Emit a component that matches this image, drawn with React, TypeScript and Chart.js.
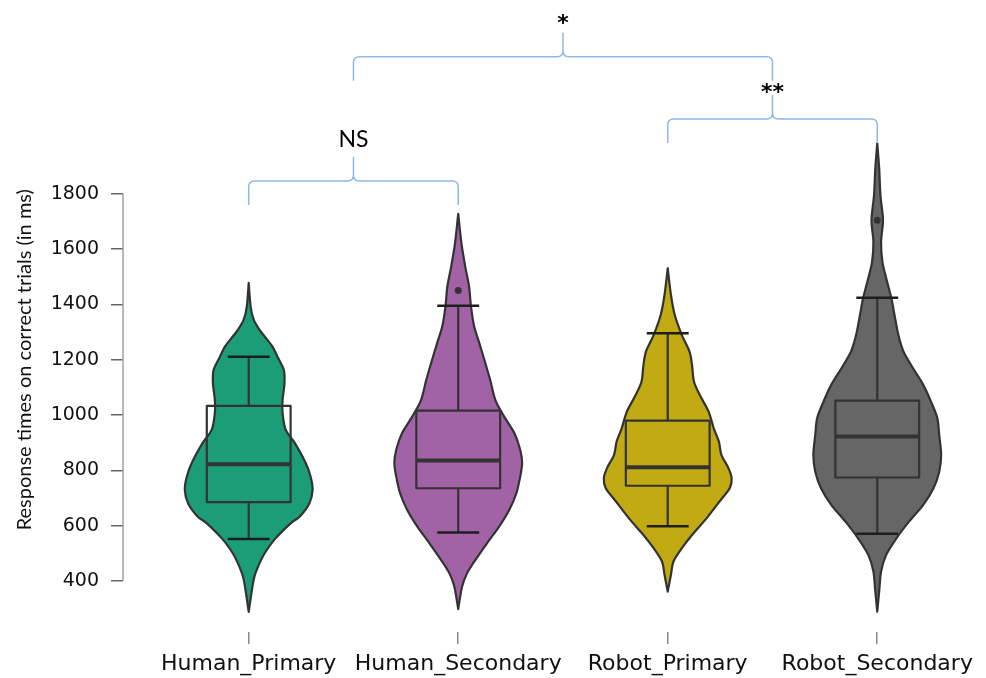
import React, { useEffect, useRef } from 'react';
import { Chart, registerables } from 'chart.js';

Chart.register(...registerables);

// ---- data ----
const categories = ['Human_Primary', 'Human_Secondary', 'Robot_Primary', 'Robot_Secondary'];
const yTickValues = [400, 600, 800, 1000, 1200, 1400, 1600, 1800];
const yTitle = 'Response times on correct trials (in ms)';

// violin outlines: response time (ms) and relative density (1 = widest)
const hpValues = [288, 367, 416, 464, 500, 551, 609, 633, 681, 729, 776, 827, 899, 946, 1007, 1055, 1115, 1163, 1211, 1248, 1284, 1308, 1344, 1392, 1478];
const hpDensity = [0, 0.05, 0.09, 0.17, 0.25, 0.41, 0.66, 0.8, 0.95, 1.0, 0.97, 0.89, 0.72, 0.58, 0.53, 0.53, 0.56, 0.55, 0.45, 0.37, 0.25, 0.17, 0.08, 0.03, 0];

const hsValues = [298, 379, 428, 476, 536, 596, 657, 717, 777, 826, 874, 934, 994, 1055, 1127, 1199, 1260, 1320, 1392, 1465, 1537, 1622, 1728];
const hsDensity = [0, 0.06, 0.14, 0.27, 0.45, 0.64, 0.8, 0.91, 0.97, 1.0, 0.97, 0.88, 0.72, 0.58, 0.5, 0.41, 0.33, 0.25, 0.2, 0.17, 0.11, 0.05, 0];

const rpValues = [361, 422, 470, 518, 566, 627, 687, 735, 772, 808, 856, 904, 952, 1012, 1073, 1121, 1181, 1230, 1290, 1362, 1435, 1531];
const rpDensity = [0, 0.05, 0.09, 0.22, 0.38, 0.61, 0.81, 0.97, 1.0, 0.95, 0.84, 0.8, 0.72, 0.64, 0.5, 0.41, 0.38, 0.34, 0.22, 0.11, 0.05, 0];

const rsValues = [289, 361, 434, 494, 554, 615, 675, 735, 795, 856, 928, 989, 1049, 1109, 1169, 1230, 1290, 1362, 1424, 1495, 1555, 1627, 1705, 1796, 1893, 1983];
const rsDensity = [0, 0.03, 0.06, 0.14, 0.3, 0.5, 0.72, 0.88, 0.97, 1.0, 0.97, 0.94, 0.84, 0.72, 0.56, 0.41, 0.33, 0.27, 0.22, 0.14, 0.08, 0.06, 0.09, 0.05, 0.03, 0];

const violinValues = [hpValues, hsValues, rpValues, rsValues];
const violinDensity = [hpDensity, hsDensity, rpDensity, rsDensity];

// box plot statistics (ms)
const whiskerLow = [551, 575, 598, 570];
const quartile1 = [685, 735, 744, 774];
const medians = [822, 835, 811, 922];
const quartile3 = [1033, 1016, 980, 1052];
const whiskerHigh = [1211, 1395, 1296, 1424];
const outlierCategory = [2, 4];
const outlierValues = [1450, 1705];

// significance brackets
const bracketFrom = [1, 3, 1.5];
const bracketTo = [2, 4, 3.5];
const bracketLevel = [1847, 2071, 2296];
const bracketLabels = ['NS', '**', '*'];

// ---- styles ----
const fillColors = ['#1b9e77', '#a262a6', '#c1aa12', '#666666'];
const outlineColor = '#333333';
const bracketColor = '#8fb8e3';
const bracketLabelOffset = [-10, 4, -3];
const violinHalfWidth = 0.305;
const boxHalfWidth = 0.2;
const capHalfWidth = 0.1;

type P = { x: number; y: number };

function smooth(ctx: CanvasRenderingContext2D, pts: P[], move: boolean) {
  if (move) ctx.moveTo(pts[0].x, pts[0].y);
  else ctx.lineTo(pts[0].x, pts[0].y);
  const t = 1 / 7;
  for (let i = 0; i < pts.length - 1; i++) {
    const p0 = pts[i - 1] || pts[i];
    const p1 = pts[i];
    const p2 = pts[i + 1];
    const p3 = pts[i + 2] || p2;
    ctx.bezierCurveTo(
      p1.x + (p2.x - p0.x) * t, p1.y + (p2.y - p0.y) * t,
      p2.x - (p3.x - p1.x) * t, p2.y - (p3.y - p1.y) * t,
      p2.x, p2.y
    );
  }
}

const violinPlugin = {
  id: 'violinPlugin',
  beforeDatasetsDraw(chart: any) {
    const ctx: CanvasRenderingContext2D = chart.ctx;
    const xs = chart.scales.x;
    const ys = chart.scales.y;
    const area = chart.chartArea;
    ctx.save();

    // y axis line (400..1800)
    ctx.strokeStyle = '#a0a0a0';
    ctx.lineWidth = 1.5;
    ctx.beginPath();
    ctx.moveTo(area.left, ys.getPixelForValue(yTickValues[0]));
    ctx.lineTo(area.left, ys.getPixelForValue(yTickValues[yTickValues.length - 1]));
    ctx.stroke();

    // y title
    ctx.save();
    ctx.translate(25, ys.getPixelForValue(1200));
    ctx.rotate(-Math.PI / 2);
    ctx.font = '20px Lato';
    ctx.fillStyle = '#111111';
    ctx.textAlign = 'center';
    ctx.textBaseline = 'middle';
    ctx.fillText(yTitle, 0, 0);
    ctx.restore();

    ctx.lineJoin = 'round';
    ctx.lineCap = 'butt';
    for (let i = 0; i < categories.length; i++) {
      const c = i + 1;
      const cx = xs.getPixelForValue(c);
      const vals = violinValues[i];
      const dens = violinDensity[i];
      const right: P[] = vals.map((v, k) => ({ x: xs.getPixelForValue(c + dens[k] * violinHalfWidth), y: ys.getPixelForValue(v) }));
      const left: P[] = vals.map((v, k) => ({ x: xs.getPixelForValue(c - dens[k] * violinHalfWidth), y: ys.getPixelForValue(v) })).reverse();
      ctx.beginPath();
      smooth(ctx, right, true);
      smooth(ctx, left, false);
      ctx.closePath();
      ctx.fillStyle = fillColors[i];
      ctx.fill();
      ctx.strokeStyle = outlineColor;
      ctx.lineWidth = 2.2;
      ctx.stroke();

      const bl = xs.getPixelForValue(c - boxHalfWidth);
      const br = xs.getPixelForValue(c + boxHalfWidth);
      const yq1 = ys.getPixelForValue(quartile1[i]);
      const yq3 = ys.getPixelForValue(quartile3[i]);
      const ylo = ys.getPixelForValue(whiskerLow[i]);
      const yhi = ys.getPixelForValue(whiskerHigh[i]);
      const ymed = ys.getPixelForValue(medians[i]);
      const cl = xs.getPixelForValue(c - capHalfWidth);
      const cr = xs.getPixelForValue(c + capHalfWidth);

      ctx.strokeStyle = outlineColor;
      ctx.lineWidth = 2.2;
      ctx.strokeRect(bl, yq3, br - bl, yq1 - yq3);
      ctx.beginPath();
      ctx.moveTo(cx, yq3); ctx.lineTo(cx, yhi);
      ctx.moveTo(cx, yq1); ctx.lineTo(cx, ylo);
      ctx.stroke();
      ctx.strokeStyle = '#1e1e1e';
      ctx.lineWidth = 2.5;
      ctx.beginPath();
      ctx.moveTo(cl, yhi); ctx.lineTo(cr, yhi);
      ctx.moveTo(cl, ylo); ctx.lineTo(cr, ylo);
      ctx.stroke();
      ctx.strokeStyle = outlineColor;
      ctx.lineWidth = 4;
      ctx.beginPath();
      ctx.moveTo(bl, ymed); ctx.lineTo(br, ymed);
      ctx.stroke();
    }

    // brackets
    ctx.strokeStyle = bracketColor;
    ctx.lineWidth = 1.5;
    ctx.lineJoin = 'round';
    const r = 6;
    const arm = 24;
    for (let b = 0; b < bracketLabels.length; b++) {
      const x1 = xs.getPixelForValue(bracketFrom[b]);
      const x2 = xs.getPixelForValue(bracketTo[b]);
      const xm = (x1 + x2) / 2;
      const yh = ys.getPixelForValue(bracketLevel[b]);
      const yEnd = yh + arm;
      const yTip = yh - arm;
      ctx.beginPath();
      ctx.moveTo(x1, yEnd);
      ctx.lineTo(x1, yh + r);
      ctx.quadraticCurveTo(x1, yh, x1 + r, yh);
      ctx.lineTo(xm - r, yh);
      ctx.quadraticCurveTo(xm, yh, xm, yh - r);
      ctx.lineTo(xm, yTip);
      ctx.moveTo(xm, yh - r);
      ctx.quadraticCurveTo(xm, yh, xm + r, yh);
      ctx.lineTo(x2 - r, yh);
      ctx.quadraticCurveTo(x2, yh, x2, yh + r);
      ctx.lineTo(x2, yEnd);
      ctx.stroke();

      ctx.fillStyle = '#000000';
      ctx.textAlign = 'center';
      ctx.textBaseline = 'alphabetic';
      const isStar = bracketLabels[b].indexOf('*') >= 0;
      ctx.font = isStar ? 'bold 22px "DejaVu Sans"' : '23px Lato';
      ctx.fillText(bracketLabels[b], xm, yTip + bracketLabelOffset[b]);
    }
    ctx.restore();
  },
};

export default function App() {
  const ref = useRef<HTMLCanvasElement>(null);
  useEffect(() => {
    const chart = new Chart(ref.current as HTMLCanvasElement, {
      type: 'scatter',
      data: {
        datasets: [
          {
            data: outlierValues.map((v, k) => ({ x: outlierCategory[k], y: v })),
            pointRadius: 3.5,
            pointBackgroundColor: '#333333',
            pointBorderWidth: 0,
          },
        ],
      },
      options: {
        responsive: false,
        animation: false,
        devicePixelRatio: 1,
        layout: { padding: { top: 14.2, right: 2, left: 0, bottom: 0 } },
        plugins: { legend: { display: false }, tooltip: { enabled: false } },
        scales: {
          x: {
            type: 'linear',
            min: 0.4,
            max: 4.5,
            afterBuildTicks: (s: any) => {
              s.ticks = categories.map((_, i) => ({ value: i + 1 }));
            },
            afterFit: (s: any) => {
              s.height = 46;
              s.paddingLeft = 0;
              s.paddingRight = 0;
            },
            ticks: {
              autoSkip: false,
              maxRotation: 0,
              padding: 7,
              color: '#111111',
              font: { family: "'DejaVu Sans'", size: 22 },
              callback: (v: any) => categories[Number(v) - 1],
            },
            grid: { drawOnChartArea: false, drawTicks: true, tickLength: 12, color: '#888888', lineWidth: 1.5 },
            border: { display: false },
          },
          y: {
            type: 'linear',
            min: 215,
            max: 2450,
            afterBuildTicks: (s: any) => {
              s.ticks = yTickValues.map((v) => ({ value: v }));
            },
            afterFit: (s: any) => {
              s.width = 123;
              s.paddingTop = 0;
              s.paddingBottom = 0;
            },
            ticks: {
              padding: 12,
              color: '#111111',
              font: { family: "'DejaVu Sans'", size: 19 },
              callback: (v: any) => String(v),
            },
            grid: { drawOnChartArea: false, drawTicks: true, tickLength: 12, color: '#666666', lineWidth: 1.5 },
            border: { display: false },
          },
        },
      },
      plugins: [violinPlugin],
    } as any);
    return () => chart.destroy();
  }, []);
  return (
    <div style={{ position: 'absolute', left: 0, top: 0, width: 986, height: 678, background: '#ffffff' }}>
      <canvas ref={ref} width={986} height={678} style={{ display: 'block' }} />
    </div>
  );
}
